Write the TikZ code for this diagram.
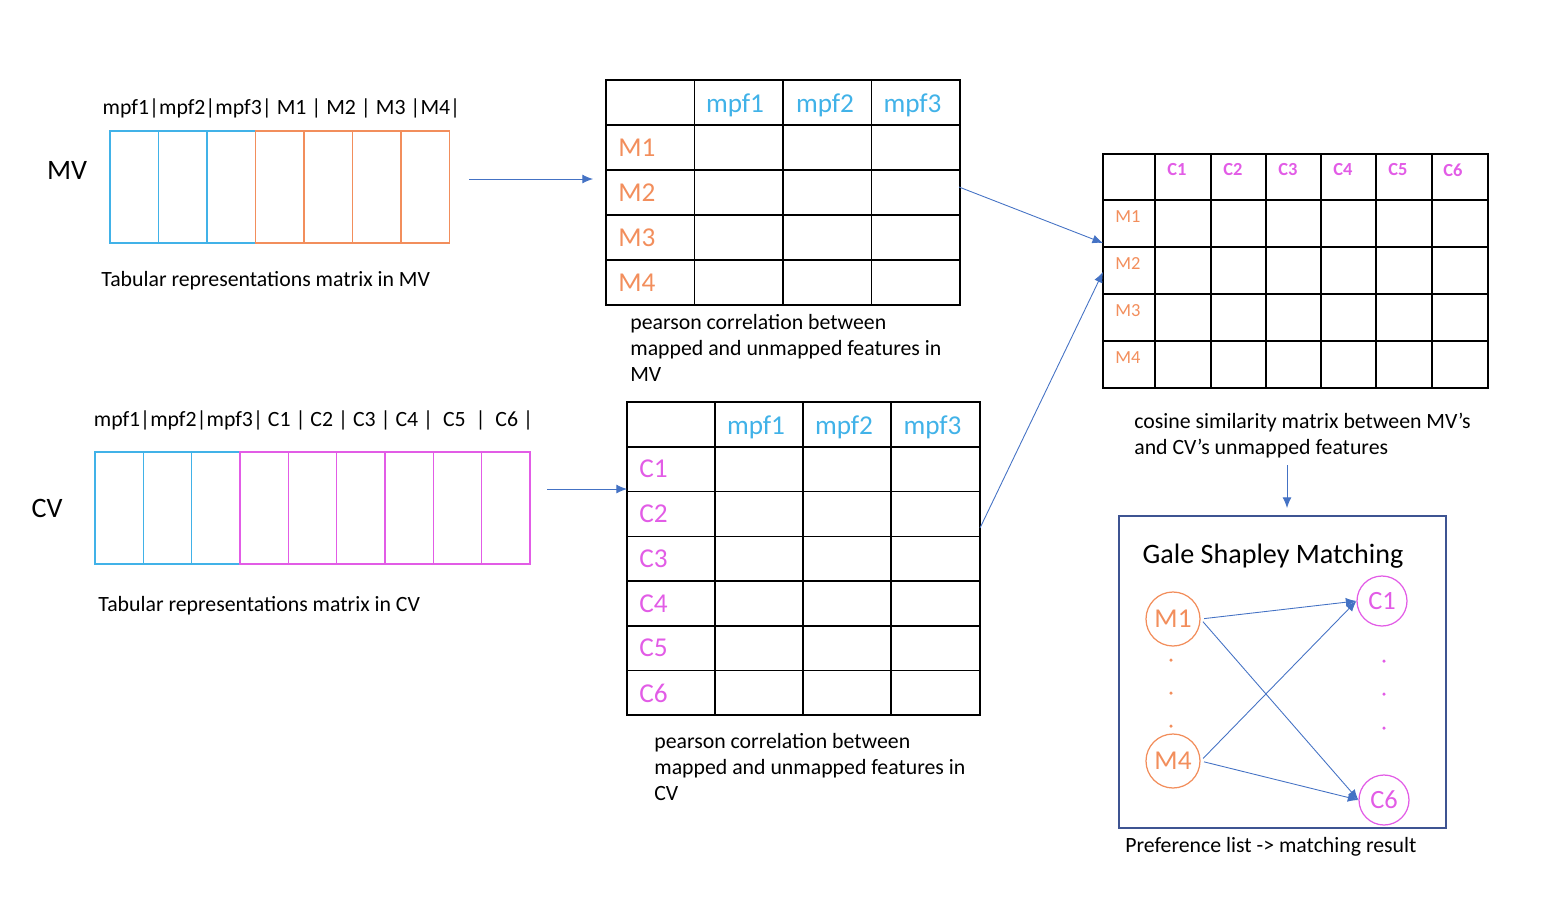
\documentclass[tikz,border=0pt]{standalone}
\usepackage{fontspec}
\setmainfont{Carlito}
\usetikzlibrary{arrows.meta}
\definecolor{mpfblue}{RGB}{65,178,232}
\definecolor{mvorange}{RGB}{242,142,92}
\definecolor{cvpink}{RGB}{226,92,230}
\definecolor{arrblue}{RGB}{68,114,196}
\definecolor{boxblue}{RGB}{62,84,146}
\begin{document}
\begin{tikzpicture}[>={Latex[length=6pt,width=5pt]},
  strip/.style={line width=0.8pt},
  tabline/.style={line width=1.1pt},
  link/.style={->, arrblue, line width=0.5pt},
  bigtxt/.style={font=\fontsize{16}{19}\selectfont},
  headtxt/.style={font=\fontsize{12.4}{14}\selectfont},
  capt/.style={font=\fontsize{12.4}{14.7}\selectfont, align=left, inner sep=0pt},
  celltxt/.style={font=\fontsize{15.5}{18}\selectfont, inner sep=0pt},
  smalltxt/.style={font=\fontsize{10.5}{12}\selectfont, inner sep=0pt, anchor=west},
  mcirc/.style={circle, draw=mvorange, text=mvorange, line width=0.7pt, minimum size=1.08cm, inner sep=0pt, font=\fontsize{15.5}{18}\selectfont},
  ccirc/.style={circle, draw=cvpink, text=cvpink, line width=0.7pt, minimum size=1.0cm, inner sep=0pt, font=\fontsize{15}{18}\selectfont}]

\useasboundingbox (0,0) rectangle (31.16,-18.12);

% MV strip
\draw [strip, mpfblue]  (2.2,-2.62) rectangle (3.17,-4.86);
\draw [strip, mpfblue]  (3.17,-2.62) rectangle (4.14,-4.86);
\draw [strip, mpfblue]  (4.14,-2.62) rectangle (5.11,-4.86);
\draw [strip, mvorange]  (5.11,-2.62) rectangle (6.08,-4.86);
\draw [strip, mvorange]  (6.08,-2.62) rectangle (7.05,-4.86);
\draw [strip, mvorange]  (7.05,-2.62) rectangle (8.02,-4.86);
\draw [strip, mvorange]  (8.02,-2.62) rectangle (8.99,-4.86);

\node (mv) [bigtxt] at (1.34,-3.4) {MV};
\node (mvhead) [headtxt] at (5.63,-2.16) {mpf1|mpf2|mpf3| M1 | M2 | M3 |M4|};
\node (mvcapt) [capt, anchor=west] at (2.02,-5.62) {Tabular representations matrix in MV};

% CV strip
\draw [strip, mpfblue]  (1.9,-9.04) rectangle (2.87,-11.28);
\draw [strip, mpfblue]  (2.87,-9.04) rectangle (3.83,-11.28);
\draw [strip, mpfblue]  (3.83,-9.04) rectangle (4.8,-11.28);
\draw [strip, cvpink]  (4.8,-9.04) rectangle (5.77,-11.28);
\draw [strip, cvpink]  (5.77,-9.04) rectangle (6.73,-11.28);
\draw [strip, cvpink]  (6.73,-9.04) rectangle (7.7,-11.28);
\draw [strip, cvpink]  (7.7,-9.04) rectangle (8.67,-11.28);
\draw [strip, cvpink]  (8.67,-9.04) rectangle (9.63,-11.28);
\draw [strip, cvpink]  (9.63,-9.04) rectangle (10.6,-11.28);

\node (cv) [bigtxt] at (0.94,-10.16) {CV};
\node (cvhead) [headtxt] at (6.27,-8.4) {mpf1|mpf2|mpf3| C1 | C2 | C3 | C4 |\ \ C5\ \ |\ \ C6 |};
\node (cvcapt) [capt, anchor=west] at (1.96,-12.12) {Tabular representations matrix in CV};

% pearson table MV
\draw [tabline]  (12.12,-1.6) rectangle (19.2,-6.1);
\draw [tabline]  (13.89,-1.6) -- (13.89,-6.1);
\draw [tabline]  (15.66,-1.6) -- (15.66,-6.1);
\draw [tabline]  (17.43,-1.6) -- (17.43,-6.1);
\draw [tabline]  (12.12,-2.5) -- (19.2,-2.5);
\draw [tabline]  (12.12,-3.4) -- (19.2,-3.4);
\draw [tabline]  (12.12,-4.3) -- (19.2,-4.3);
\draw [tabline]  (12.12,-5.2) -- (19.2,-5.2);

\node (pa1) [celltxt, mpfblue] at (14.7,-2.1) {mpf1};
\node (pa2) [celltxt, mpfblue] at (16.5,-2.1) {mpf2};
\node (pa3) [celltxt, mpfblue] at (18.25,-2.1) {mpf3};
\node (pm1) [celltxt, mvorange, anchor=west] at (12.36,-2.95) {M1};
\node (pm2) [celltxt, mvorange, anchor=west] at (12.36,-3.85) {M2};
\node (pm3) [celltxt, mvorange, anchor=west] at (12.36,-4.75) {M3};
\node (pm4) [celltxt, mvorange, anchor=west] at (12.36,-5.65) {M4};
\node (pcapt1) [capt, anchor=north west] at (12.6,-6.28) {pearson correlation between\\mapped and unmapped features in\\MV};

% pearson table CV
\draw [tabline]  (12.54,-8.04) rectangle (19.6,-14.3);
\draw [tabline]  (14.3,-8.04) -- (14.3,-14.3);
\draw [tabline]  (16.06,-8.04) -- (16.06,-14.3);
\draw [tabline]  (17.82,-8.04) -- (17.82,-14.3);
\draw [tabline]  (12.54,-8.94) -- (19.6,-8.94);
\draw [tabline]  (12.54,-9.83) -- (19.6,-9.83);
\draw [tabline]  (12.54,-10.73) -- (19.6,-10.73);
\draw [tabline]  (12.54,-11.62) -- (19.6,-11.62);
\draw [tabline]  (12.54,-12.52) -- (19.6,-12.52);
\draw [tabline]  (12.54,-13.41) -- (19.6,-13.41);

\node (qa1) [celltxt, mpfblue] at (15.12,-8.55) {mpf1};
\node (qa2) [celltxt, mpfblue] at (16.88,-8.55) {mpf2};
\node (qa3) [celltxt, mpfblue] at (18.65,-8.55) {mpf3};
\node (qc1) [celltxt, cvpink, anchor=west] at (12.78,-9.38) {C1};
\node (qc2) [celltxt, cvpink, anchor=west] at (12.78,-10.28) {C2};
\node (qc3) [celltxt, cvpink, anchor=west] at (12.78,-11.17) {C3};
\node (qc4) [celltxt, cvpink, anchor=west] at (12.78,-12.07) {C4};
\node (qc5) [celltxt, cvpink, anchor=west] at (12.78,-12.96) {C5};
\node (qc6) [celltxt, cvpink, anchor=west] at (12.78,-13.86) {C6};
\node (pcapt2) [capt, anchor=north west] at (13.08,-14.66) {pearson correlation between\\mapped and unmapped features in\\CV};

% cosine table
\draw [tabline]  (22.06,-3.08) rectangle (29.76,-7.76);
\draw [tabline]  (23.1,-3.08) -- (23.1,-7.76);
\draw [tabline]  (24.22,-3.08) -- (24.22,-7.76);
\draw [tabline]  (25.32,-3.08) -- (25.32,-7.76);
\draw [tabline]  (26.42,-3.08) -- (26.42,-7.76);
\draw [tabline]  (27.52,-3.08) -- (27.52,-7.76);
\draw [tabline]  (28.64,-3.08) -- (28.64,-7.76);
\draw [tabline]  (22.06,-4.0) -- (29.76,-4.0);
\draw [tabline]  (22.06,-4.94) -- (29.76,-4.94);
\draw [tabline]  (22.06,-5.88) -- (29.76,-5.88);
\draw [tabline]  (22.06,-6.82) -- (29.76,-6.82);

\node (kc1) [smalltxt, cvpink, font=\fontsize{10.5}{12}\selectfont\bfseries] at (23.34,-3.4) {C1};
\node (kc2) [smalltxt, cvpink, font=\fontsize{10.5}{12}\selectfont\bfseries] at (24.46,-3.4) {C2};
\node (kc3) [smalltxt, cvpink, font=\fontsize{10.5}{12}\selectfont\bfseries] at (25.56,-3.4) {C3};
\node (kc4) [smalltxt, cvpink, font=\fontsize{10.5}{12}\selectfont\bfseries] at (26.66,-3.4) {C4};
\node (kc5) [smalltxt, cvpink, font=\fontsize{10.5}{12}\selectfont\bfseries] at (27.76,-3.4) {C5};
\node (kc6) [smalltxt, cvpink, font=\fontsize{10.5}{12}\selectfont\bfseries] at (28.86,-3.4) {C6};
\node (km1) [smalltxt, mvorange] at (22.3,-4.34) {M1};
\node (km2) [smalltxt, mvorange] at (22.3,-5.28) {M2};
\node (km3) [smalltxt, mvorange] at (22.3,-6.22) {M3};
\node (km4) [smalltxt, mvorange] at (22.3,-7.16) {M4};
\node (kcapt) [capt, anchor=north west] at (22.68,-8.26) {cosine similarity matrix between MV’s\\and CV’s unmapped features};

% Gale Shapley box
\draw [boxblue, line width=1pt]  (22.38,-10.32) rectangle (28.92,-16.56);
\node (gs) [font=\fontsize{16}{19}\selectfont] at (25.46,-11.12) {Gale Shapley Matching};
\node (gm1) [mcirc] at (23.46,-12.38) {M1};
\node (gm4) [mcirc] at (23.46,-15.22) {M4};
\node (gc1) [ccirc] at (27.64,-12.02) {C1};
\node (gc6) [ccirc] at (27.68,-16.0) {C6};
\fill [mvorange] (23.42,-13.2) circle (0.035);
\fill [mvorange] (23.42,-13.86) circle (0.035);
\fill [mvorange] (23.42,-14.52) circle (0.035);
\fill [cvpink] (27.68,-13.22) circle (0.035);
\fill [cvpink] (27.68,-13.88) circle (0.035);
\fill [cvpink] (27.68,-14.56) circle (0.035);
\draw [link, shorten <=2pt] (gm1.east) -- (gc1.west);
\draw [link, shorten <=2pt] (gm1.east) -- (gc6.west);
\draw [link, shorten <=2pt] (gm4.east) -- (gc1.west);
\draw [link, shorten <=2pt] (gm4.east) -- (gc6.west);
\node (gcapt) [capt, anchor=west] at (22.5,-16.94) {Preference list -> matching result};

% connectors
\coordinate (a1) at (9.38,-3.58);
\coordinate (a2) at (11.86,-3.58);
\coordinate (b1) at (10.94,-9.78);
\coordinate (b2) at (12.54,-9.78);
\coordinate (c1) at (19.18,-3.74);
\coordinate (c2) at (22.06,-4.86);
\coordinate (d1) at (19.6,-10.56);
\coordinate (d2) at (22.06,-5.44);
\coordinate (e1) at (25.74,-9.3);
\coordinate (e2) at (25.74,-10.16);
\draw [link] (a1) -- (a2);
\draw [link] (b1) -- (b2);
\draw [link] (c1) -- (c2);
\draw [link] (d1) -- (d2);
\draw [link] (e1) -- (e2);
\end{tikzpicture}
\end{document}
